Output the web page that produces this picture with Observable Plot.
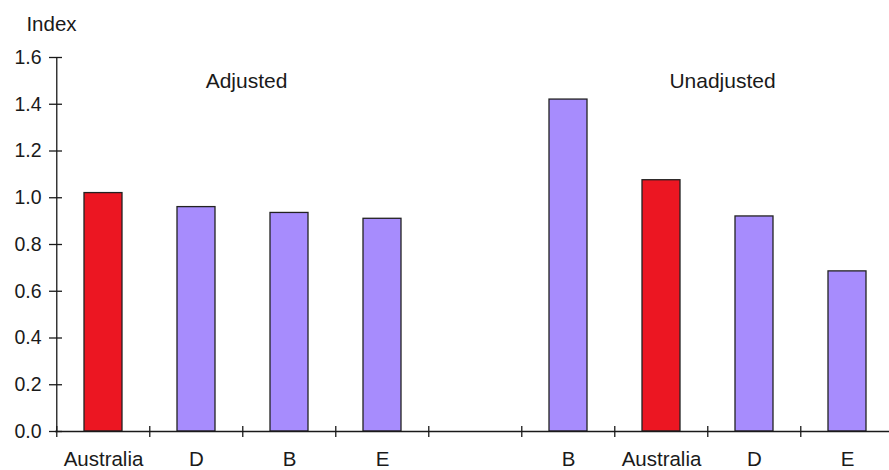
<!DOCTYPE html>
<html>
<head>
<meta charset="utf-8">
<script src="https://cdn.jsdelivr.net/npm/d3@7"></script>
<script src="https://cdn.jsdelivr.net/npm/@observablehq/plot@0.6"></script>
<style>
  html, body { margin: 0; padding: 0; background: #fff; }
  #chart svg { overflow: visible; }
</style>
</head>
<body>
<div id="chart"></div>
<script>
// Data
const slots = ["a-Australia", "a-D", "a-B", "a-E", "gap", "u-B", "u-Australia", "u-D", "u-E"];
const slotLabels = ["Australia", "D", "B", "E", "", "B", "Australia", "D", "E"];
const adjustedCountries = ["Australia", "D", "B", "E"];
const adjustedValues = [1.02, 0.96, 0.935, 0.91];
const unadjustedCountries = ["B", "Australia", "D", "E"];
const unadjustedValues = [1.42, 1.075, 0.92, 0.685];
const yTicks = [0, 0.2, 0.4, 0.6, 0.8, 1.0, 1.2, 1.4, 1.6];

const rows = [
  ...adjustedCountries.map((c, i) => ({slot: "a-" + c, country: c, value: adjustedValues[i]})),
  ...unadjustedCountries.map((c, i) => ({slot: "u-" + c, country: c, value: unadjustedValues[i]}))
];
const labelOf = new Map(slots.map((s, i) => [s, slotLabels[i]]));

const W = 889, H = 470;
const x0 = 55, x1 = 896;
const step = (x1 - x0) / slots.length;
const font = "Liberation Sans, Arial, sans-serif";
const ink = "#1a1a1a";

const chart = Plot.plot({
  width: W,
  height: H,
  marginLeft: x0,
  marginRight: 0,
  marginTop: 57,
  marginBottom: 39,
  style: {fontFamily: font, fontSize: "19px", color: ink, background: "#fff"},
  x: {domain: slots, range: [x0, x1], paddingInner: 0.59, paddingOuter: 0.295, axis: null, label: null},
  y: {domain: [0, 1.6], axis: null, label: null},
  marks: [
    Plot.barY(rows, {
      x: "slot", y: "value",
      fill: d => d.country === "Australia" ? "#EC1622" : "#A78CFD",
      stroke: "#222", strokeWidth: 1.3
    }),
    // y axis line
    Plot.ruleX([slots[0]], {dx: -step / 2, stroke: ink, strokeWidth: 1.3}),
    // x axis line
    Plot.ruleY([0], {stroke: ink, strokeWidth: 1.3}),
    // y ticks (crossing)
    Plot.axisY({ticks: yTicks, tickSize: 13, dx: 7, text: null, label: null, stroke: ink, strokeWidth: 1.3}),
    Plot.axisY({ticks: yTicks, tickSize: 0, tickPadding: 14, tickFormat: d3.format(".1f"), label: null,
      fontSize: 19.5, fill: ink}),
    // x ticks at slot boundaries (crossing)
    Plot.axisX({ticks: slots, tickSize: 11, dy: -5, dx: -step / 2, text: null, label: null, stroke: ink, strokeWidth: 1.3}),
    Plot.axisX({ticks: slots, tickSize: 0, tickPadding: 20, tickFormat: s => labelOf.get(s), label: null,
      fontSize: 20.5, fill: ink}),
    // group labels
    Plot.text(["Adjusted"], {x: () => "a-B", dx: -43, dy: 16, text: d => d, frameAnchor: "top", fontSize: 21, fill: ink}),
    Plot.text(["Unadjusted"], {x: () => "u-D", dx: -32, dy: 16, text: d => d, frameAnchor: "top", fontSize: 21, fill: ink}),
    Plot.text(["Index"], {frameAnchor: "top-left", dx: -4, dy: -41, text: d => d, textAnchor: "middle", fontSize: 20.5, fill: ink})
  ]
});

document.getElementById("chart").appendChild(chart);
</script>
</body>
</html>
